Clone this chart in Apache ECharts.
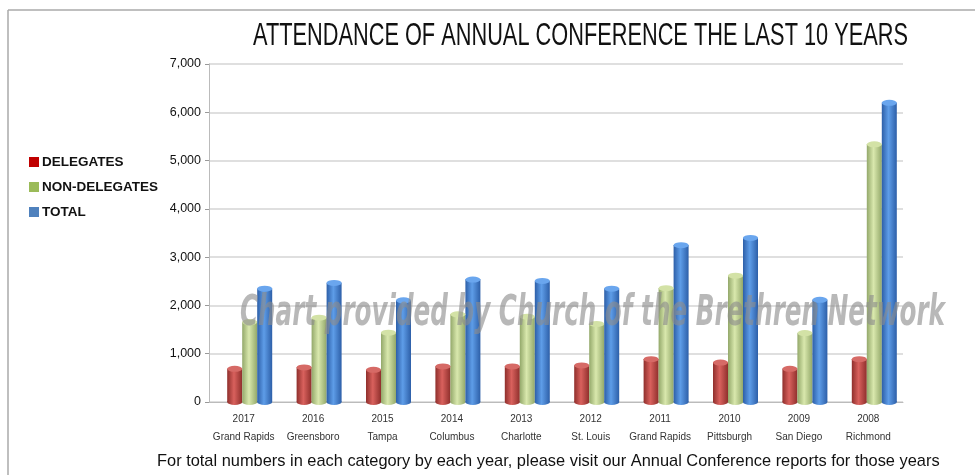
<!DOCTYPE html>
<html>
<head>
<meta charset="utf-8">
<script src="https://cdn.jsdelivr.net/npm/echarts@6/dist/echarts.min.js"></script>
<style>
  html, body { margin: 0; padding: 0; background: #fff; }
  #chart { width: 975px; height: 475px; }
</style>
</head>
<body>
<div id="chart"></div>
<script>
// datos
const years = ["2017", "2016", "2015", "2014", "2013", "2012", "2011", "2010", "2009", "2008"];
const cities = ["Grand Rapids", "Greensboro", "Tampa", "Columbus", "Charlotte", "St. Louis", "Grand Rapids", "Pittsburgh", "San Diego", "Richmond"];
const delegates = [690, 720, 670, 740, 740, 760, 890, 820, 690, 890];
const nonDelegates = [1660, 1750, 1440, 1820, 1770, 1620, 2360, 2620, 1430, 5340];
const total = [2350, 2470, 2110, 2540, 2510, 2350, 3250, 3400, 2120, 6200];
const yTicks = [0, 1000, 2000, 3000, 4000, 5000, 6000, 7000];

const categories = years.map((y, i) => y + "\n" + cities[i]);

const chartDom = document.getElementById("chart");
const chart = echarts.init(chartDom);

// mide el ancho de un texto para angostarlo al ancho del original
const measureCtx = document.createElement("canvas").getContext("2d");
function fitScale(text, font, width) {
  measureCtx.font = font;
  return width / measureCtx.measureText(text).width;
}

const titleText = "ATTENDANCE OF ANNUAL CONFERENCE THE LAST 10 YEARS";
const titleFont = "32px 'Liberation Sans', Arial, sans-serif";
const markText = "Chart provided by Church of the Brethren Network";
const markFont = "italic bold 42px 'DejaVu Sans', sans-serif";

function cyl(edge, mid) {
  return {
    type: "linear", x: 0, y: 0, x2: 1, y2: 0,
    colorStops: [
      { offset: 0, color: edge },
      { offset: 0.45, color: mid },
      { offset: 1, color: edge },
    ],
  };
}

const barSeries = [
  { name: "DELEGATES", data: delegates, color: cyl("#8f2f2c", "#d9615d"), top: "#d66a66", legend: "#c00000", off: -15 },
  { name: "NON-DELEGATES", data: nonDelegates, color: cyl("#93a86a", "#d9e8ad"), top: "#d3e2a6", legend: "#9bbb59", off: 0 },
  { name: "TOTAL", data: total, color: cyl("#2d5fa8", "#5e9de8"), top: "#6aa6ee", legend: "#4f81bd", off: 15 },
];

// las barras van en una segunda grilla corrida unos px (efecto 3D)
const series = [];
barSeries.forEach((s) => {
  series.push({
    name: s.name,
    type: "bar",
    xAxisIndex: 1,
    yAxisIndex: 1,
    data: s.data,
    barWidth: 15,
    barGap: "0%",
    itemStyle: { color: s.color },
    z: 2,
  });
});
// tapas y bases de los cilindros
barSeries.forEach((s) => {
  series.push({
    type: "pictorialBar",
    xAxisIndex: 1,
    yAxisIndex: 1,
    data: s.data,
    symbol: "circle",
    symbolSize: [15, 6],
    symbolPosition: "end",
    symbolOffset: [s.off, "-50%"],
    itemStyle: { color: s.top, borderColor: "rgba(0,0,0,0.25)", borderWidth: 0.5 },
    z: 3,
    silent: true,
  });
  series.push({
    type: "pictorialBar",
    xAxisIndex: 1,
    yAxisIndex: 1,
    data: s.data,
    symbol: "circle",
    symbolSize: [15, 6],
    symbolPosition: "start",
    symbolOffset: [s.off, "50%"],
    itemStyle: { color: s.color },
    z: 1,
    silent: true,
  });
});

const option = {
  animation: false,
  textStyle: { fontFamily: "Liberation Sans, Arial, sans-serif" },
  legend: {
    data: barSeries.map((s) => ({ name: s.name, itemStyle: { color: s.legend } })),
    orient: "vertical",
    left: 24,
    top: 150,
    itemGap: 11,
    itemWidth: 10,
    itemHeight: 10,
    icon: "rect",
    textStyle: { fontSize: 13.5, fontWeight: "bold", color: "#111", padding: [0, 0, 0, -2] },
  },
  grid: [
    { left: 209, right: 72, top: 64, bottom: 73 },
    { left: 215, right: 66, top: 64, bottom: 73 },
  ],
  xAxis: [
    {
      type: "category",
      data: categories,
      axisLine: { lineStyle: { color: "#bbb" } },
      axisTick: { length: 40, interval: 0, lineStyle: { color: "#ccc" } },
      axisLabel: {
        interval: 0,
        margin: 8,
        fontSize: 10,
        lineHeight: 18,
        color: "#333",
      },
    },
    { type: "category", gridIndex: 1, data: categories, show: false },
  ],
  yAxis: [
    {
      type: "value",
      min: 0,
      max: 7000,
      interval: 1000,
      axisLine: { show: true, lineStyle: { color: "#bbb" } },
      axisTick: { show: true, length: 4, lineStyle: { color: "#999" } },
      axisLabel: {
        fontSize: 12.5,
        color: "#111",
        margin: 8,
        formatter: (v) => (yTicks.includes(v) ? v.toLocaleString("en-US") : ""),
      },
      splitLine: { lineStyle: { color: "#d4d4d4", width: 1.5 } },
    },
    { type: "value", gridIndex: 1, min: 0, max: 7000, interval: 1000, show: false, splitLine: { show: false } },
  ],
  graphic: [
    { type: "line", shape: { x1: 8, y1: 10, x2: 975, y2: 10 }, style: { stroke: "#aaa", lineWidth: 1.5 } },
    { type: "line", shape: { x1: 8, y1: 10, x2: 8, y2: 475 }, style: { stroke: "#aaa", lineWidth: 1.5 } },
    {
      // titulo angosto
      type: "text",
      x: 253,
      y: 36,
      scaleX: fitScale(titleText, titleFont, 655),
      style: {
        text: titleText,
        x: 0,
        y: 0,
        verticalAlign: "middle",
        font: titleFont,
        fill: "#111",
      },
    },
    {
      type: "text",
      x: 240,
      y: 314,
      scaleX: fitScale(markText, markFont, 705),
      z: 100,
      style: {
        text: markText,
        x: 0,
        y: 0,
        verticalAlign: "middle",
        font: markFont,
        fill: "rgba(140,140,140,0.62)",
      },
    },
    {
      type: "text",
      x: 157,
      y: 461,
      style: {
        text: "For total numbers in each category by each year, please visit our Annual Conference reports for those years",
        x: 0,
        y: 0,
        verticalAlign: "middle",
        font: "16.4px 'Liberation Sans', Arial, sans-serif",
        fill: "#111",
      },
    },
  ],
  series: series,
};

chart.setOption(option);
</script>
</body>
</html>
